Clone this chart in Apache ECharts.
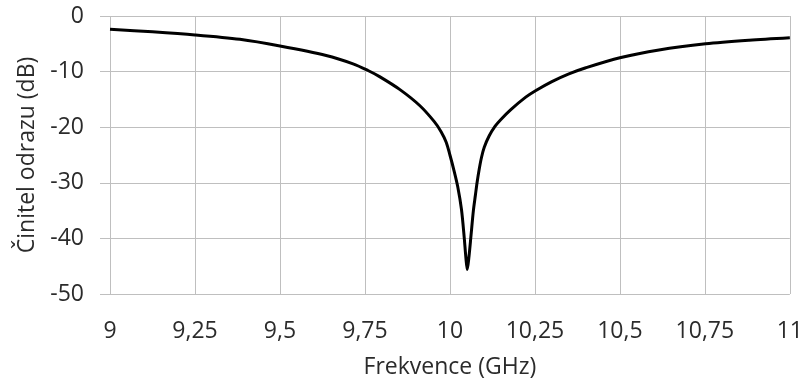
<!DOCTYPE html>
<html>
<head>
<meta charset="utf-8">
<script src="https://cdn.jsdelivr.net/npm/echarts@6/dist/echarts.min.js"></script>
<style>
  html, body { margin: 0; padding: 0; background: #fff; }
  #chart { width: 806px; height: 385px; }
</style>
</head>
<body>
<div id="chart"></div>
<script>
// frequency (GHz) and reflection coefficient (dB)
var freq = [9, 9.125, 9.25, 9.382, 9.5, 9.636, 9.715, 9.759, 9.793, 9.852, 9.911, 9.954, 9.974, 9.989,
  10.0, 10.012, 10.023, 10.034, 10.042, 10.047, 10.051, 10.056, 10.062, 10.069, 10.075, 10.08,
  10.086, 10.093, 10.101, 10.116, 10.133, 10.15, 10.18, 10.223, 10.253, 10.3, 10.35, 10.4, 10.5,
  10.615, 10.752, 10.88, 11]
var refl = [-2.4, -2.85, -3.4, -4.2, -5.4, -7.1, -8.6, -9.8, -10.9, -13.2, -16.1, -19.0, -20.8, -22.7,
  -25.0, -27.8, -30.7, -34.8, -39.8, -43.5, -45.6, -43.3, -39.5, -35.0, -32.2, -29.9,
  -27.6, -25.4, -23.6, -21.5, -19.8, -18.6, -16.8, -14.6, -13.4, -11.8, -10.4, -9.3, -7.5,
  -6.1, -5.0, -4.35, -3.9]

var points = freq.map(function (f, i) { return [f, refl[i]] })

var chart = echarts.init(document.getElementById('chart'))
var labelFont = { fontFamily: 'Open Sans', fontSize: 23, color: '#2b2b2b' }

chart.setOption({
  backgroundColor: '#fff',
  animation: false,
  grid: {
    left: 110,
    right: 15,
    top: 16,
    bottom: 91
  },
  xAxis: {
    type: 'value',
    min: 9,
    max: 11,
    interval: 0.25,
    name: 'Frekvence (GHz)',
    nameLocation: 'middle',
    nameGap: 62,
    nameTextStyle: labelFont,
    axisLine: { show: false },
    axisTick: { show: false },
    axisLabel: {
      margin: 26,
      fontFamily: 'Open Sans',
      fontSize: 23,
      color: '#2b2b2b',
      formatter: function (v) { return String(v).replace('.', ',') }
    },
    splitLine: { lineStyle: { color: '#bfbfbf', width: 1 } }
  },
  yAxis: {
    type: 'value',
    min: -50,
    max: 0,
    interval: 10,
    name: 'Činitel odrazu (dB)',
    nameLocation: 'middle',
    nameGap: 70,
    nameTextStyle: labelFont,
    axisLine: { show: false },
    axisTick: { show: true, length: 10, lineStyle: { color: '#bfbfbf' } },
    axisLabel: {
      margin: 26,
      fontFamily: 'Open Sans',
      fontSize: 23,
      color: '#2b2b2b'
    },
    splitLine: { lineStyle: { color: '#bfbfbf', width: 1 } }
  },
  series: [{
    type: 'line',
    data: points,
    smooth: 0.3,
    showSymbol: false,
    lineStyle: { color: '#000', width: 3 }
  }]
})
</script>
</body>
</html>
